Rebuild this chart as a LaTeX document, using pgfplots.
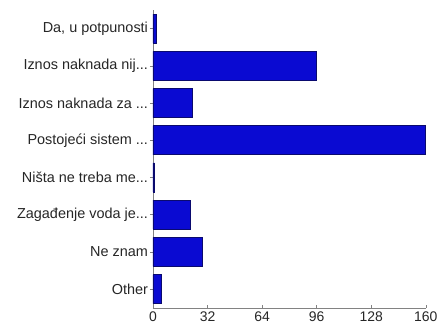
\documentclass[border=0pt]{standalone}
\usepackage{fontspec}
\setmainfont{Liberation Sans}
\usepackage{pgfplots}
\pgfplotsset{compat=1.18}
\definecolor{barblue}{RGB}{10,10,210}
\definecolor{baredge}{RGB}{10,10,110}
\definecolor{axisgray}{RGB}{130,130,130}
\begin{document}
\begin{tikzpicture}
\begin{axis}[
  scale only axis,
  width=272.7bp, height=297.7bp,
  xmin=0, xmax=160,
  ymin=-0.5, ymax=7.5,
  y dir=reverse,
  xtick={0,32,64,96,128,160},
  ytick={0,1,2,3,4,5,6,7},
  yticklabels={{Da, u potpunosti}, {Iznos naknada nij.{}.{}.}, {Iznos naknada za .{}.{}.}, {Postojeći sistem .{}.{}.}, {Ništa ne treba me.{}.{}.}, {Zagađenje voda je.{}.{}.}, {Ne znam}, {Other}},
  axis x line*=bottom,
  axis y line*=left,
  axis line style={axisgray, -},
  x tick style={axisgray, thin},
  y tick style={axisgray, thin},
  xtick align=inside,
  ytick align=outside,
  major tick length=3bp,
  tick label style={text=black!85},
  yticklabel style={font=\fontsize{14.5}{16}\selectfont, xshift=1.5bp},
  xticklabel style={font=\fontsize{14}{16}\selectfont, yshift=-0.5bp},
  /pgf/number format/assume math mode=true,
  xbar,
  bar width=0.78,
  clip=false,
]
\addplot[fill=barblue, draw=baredge, line width=0.6bp] coordinates {
  (2,0) (96,1) (23,2) (160,3) (1,4) (22,5) (29,6) (5,7)
};
\end{axis}
\pgfresetboundingbox
\path (current axis.south west)++(-153bp,-21.3bp) coordinate (bl);
\path (current axis.north east)++(17.3bp,10bp) coordinate (tr);
\path[use as bounding box] (bl) rectangle (tr);
\end{tikzpicture}
\end{document}
